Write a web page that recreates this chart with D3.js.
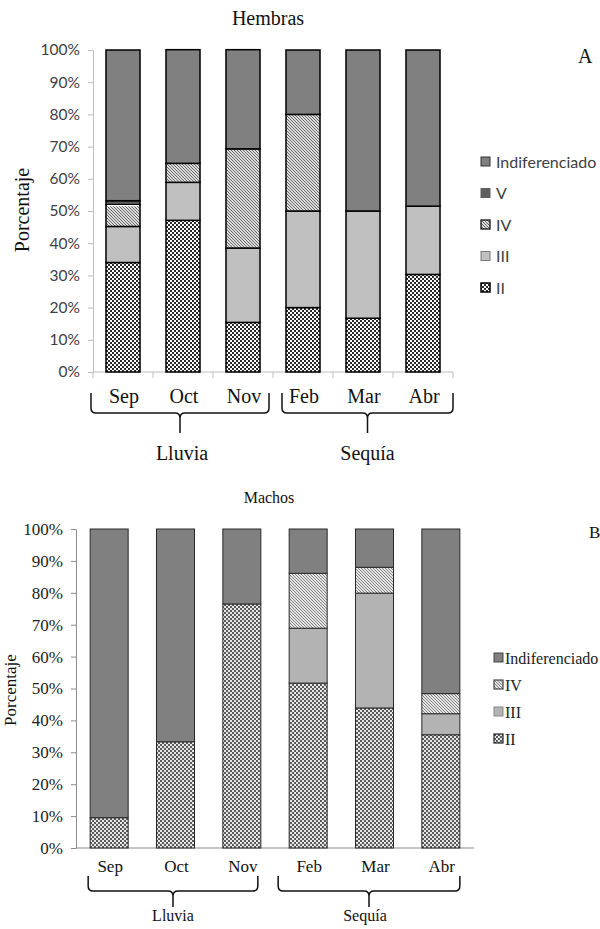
<!DOCTYPE html>
<html>
<head>
<meta charset="utf-8">
<script src="https://cdn.jsdelivr.net/npm/d3@7"></script>
<style>
  html, body { margin: 0; padding: 0; background: #fff; }
  svg { display: block; }
</style>
</head>
<body>
<svg id="chart" width="600" height="929"></svg>
<script>
// Months shown on both panels
const months = ["Sep", "Oct", "Nov", "Feb", "Mar", "Abr"];
const seasons = [
  { label: "Lluvia", from: "Sep", to: "Nov" },
  { label: "Sequía", from: "Feb", to: "Abr" }
];
const yTicks = [0, 10, 20, 30, 40, 50, 60, 70, 80, 90, 100];

// Hembras: percentage per gonadal stage
const hembrasII    = [34.0, 47.1, 15.4, 20.0, 16.7, 30.3];
const hembrasIII   = [11.2, 11.8, 23.1, 30.0, 33.3, 21.2];
const hembrasIV    = [ 6.8,  5.9, 30.8, 30.0,  0.0,  0.0];
const hembrasV     = [ 1.2,  0.0,  0.0,  0.0,  0.0,  0.0];
const hembrasIndif = [46.8, 35.3, 30.8, 20.0, 50.0, 48.5];

// Machos: percentage per gonadal stage
const machosII    = [ 9.5, 33.3, 76.5, 51.7, 43.9, 35.5];
const machosIII   = [ 0.0,  0.0,  0.0, 17.2, 36.0,  6.6];
const machosIV    = [ 0.0,  0.0,  0.0, 17.2,  8.1,  6.3];
const machosIndif = [90.5, 66.7, 23.5, 13.9, 12.0, 51.6];

const svg = d3.select("#chart");
const defs = svg.append("defs");

// Fill patterns
function checker(id, color, bg) {
  const p = defs.append("pattern").attr("id", id)
    .attr("width", 4).attr("height", 4).attr("patternUnits", "userSpaceOnUse");
  p.append("rect").attr("width", 4).attr("height", 4).attr("fill", bg);
  p.append("rect").attr("width", 2).attr("height", 2).attr("fill", color);
  p.append("rect").attr("x", 2).attr("y", 2).attr("width", 2).attr("height", 2).attr("fill", color);
}
function hatch(id, color, bg, w) {
  const p = defs.append("pattern").attr("id", id)
    .attr("width", 3).attr("height", 3).attr("patternUnits", "userSpaceOnUse");
  p.append("rect").attr("width", 3).attr("height", 3).attr("fill", bg);
  p.append("path").attr("d", "M-1,2 l2,2 M0,0 l3,3 M2,-1 l2,2")
    .attr("stroke", color).attr("stroke-width", w).attr("fill", "none");
}
checker("chkA", "#2a2a2a", "#ffffff");
checker("chkB", "#5a5a5a", "#e8e8e8");
hatch("hatA", "#6a6a6a", "#dcdcdc", 1);
hatch("hatB", "#858585", "#e4e4e4", 1);

function bracePath(x0, x1, xc, yTop, yMid, yTip) {
  const r = 5;
  return `M${x0},${yTop} L${x0},${yMid - r} Q${x0},${yMid} ${x0 + r},${yMid}` +
         ` L${xc - r},${yMid} Q${xc},${yMid} ${xc},${yMid + r} L${xc},${yTip}` +
         ` M${xc},${yMid + r} Q${xc},${yMid} ${xc + r},${yMid}` +
         ` L${x1 - r},${yMid} Q${x1},${yMid} ${x1},${yMid - r} L${x1},${yTop}`;
}

function drawPanel(cfg) {
  const g = svg.append("g");
  const rows = months.map((m, i) => {
    const row = { month: m };
    cfg.series.forEach(s => { row[s.key] = s.values[i]; });
    return row;
  });
  const stack = d3.stack().keys(cfg.series.map(s => s.key));
  const layers = stack(rows);

  const x = d3.scaleBand().domain(months).range([cfg.x0, cfg.x1])
    .paddingInner(cfg.pad).paddingOuter(cfg.pad / 2);
  const y = d3.scaleLinear().domain([0, 100]).range([cfg.yBottom, cfg.yTop]);

  // y axis
  const yAxis = g.append("g").attr("transform", `translate(${cfg.x0},0)`)
    .call(d3.axisLeft(y).tickValues(yTicks).tickSize(cfg.tickLen).tickSizeOuter(0)
      .tickFormat(d => d + "%"));
  yAxis.select(".domain").attr("stroke", cfg.axisColor).attr("stroke-width", 1);
  yAxis.selectAll(".tick line").attr("stroke", cfg.axisColor);
  yAxis.selectAll(".tick text")
    .attr("x", -cfg.tickLabelGap)
    .attr("fill", cfg.tickColor)
    .style("font-family", cfg.tickFont).style("font-size", cfg.tickSize + "px");

  // x axis line and band separators
  g.append("line").attr("x1", cfg.x0).attr("x2", cfg.x1)
    .attr("y1", cfg.yBottom).attr("y2", cfg.yBottom)
    .attr("stroke", cfg.axisColor).attr("stroke-width", 1);
  if (cfg.xTicks) {
    const bounds = months.map(m => x(m) - x.step() * x.paddingInner() / 2).concat([cfg.x1]);
    g.selectAll(".xt").data(bounds).join("line")
      .attr("x1", d => d).attr("x2", d => d)
      .attr("y1", cfg.yBottom).attr("y2", cfg.yBottom + 6)
      .attr("stroke", cfg.axisColor);
  }

  // stacked bars
  const fills = Object.fromEntries(cfg.series.map(s => [s.key, s.fill]));
  layers.forEach(layer => {
    const segs = layer.filter(d => d[1] - d[0] > 0);
    g.selectAll(null).data(segs).join("rect")
      .attr("x", d => x(d.data.month))
      .attr("width", x.bandwidth())
      .attr("y", d => y(d[1]))
      .attr("height", d => y(d[0]) - y(d[1]))
      .attr("fill", fills[layer.key])
      .attr("stroke", cfg.barStroke)
      .attr("stroke-width", cfg.barStrokeW);
    if (layer.key === "V") {
      g.selectAll(null).data(segs).join("line")
        .attr("x1", d => x(d.data.month) + 1).attr("x2", d => x(d.data.month) + x.bandwidth() - 1)
        .attr("y1", d => y(d[0]) + 1).attr("y2", d => y(d[0]) + 1)
        .attr("stroke", "#ffffff").attr("stroke-width", 1.2);
    }
  });

  // month labels
  g.selectAll(".ml").data(months).join("text")
    .attr("x", d => x(d) + x.bandwidth() / 2 + cfg.labelShift)
    .attr("y", cfg.monthY)
    .attr("text-anchor", "middle")
    .style("font-family", "Liberation Serif, serif")
    .style("font-size", cfg.monthSize + "px")
    .attr("fill", "#111")
    .text(d => d);

  // season braces
  seasons.forEach((s, i) => {
    const b = cfg.braces[i];
    const xa = x(s.from) + b.dx0;
    const xb = x(s.to) + x.bandwidth() + b.dx1;
    const xc = (xa + xb) / 2 + b.dc;
    g.append("path")
      .attr("d", bracePath(xa, xb, xc, cfg.braceTop, cfg.braceMid, cfg.braceTip))
      .attr("fill", "none").attr("stroke", "#111").attr("stroke-width", 1.5);
    g.append("text")
      .attr("x", xc + b.dt).attr("y", cfg.seasonY)
      .attr("text-anchor", "middle")
      .style("font-family", "Liberation Serif, serif")
      .style("font-size", cfg.seasonSize + "px")
      .attr("fill", "#111")
      .text(s.label);
  });

  // title, panel letter, y title
  g.append("text").attr("x", cfg.titleX).attr("y", cfg.titleY)
    .attr("text-anchor", "middle")
    .style("font-family", "Liberation Serif, serif").style("font-size", cfg.titleSize + "px")
    .attr("fill", "#111").text(cfg.title);
  g.append("text").attr("x", cfg.letterX).attr("y", cfg.letterY)
    .style("font-family", "Liberation Serif, serif").style("font-size", cfg.letterSize + "px")
    .attr("fill", "#111").text(cfg.letter);
  g.append("text")
    .attr("transform", `translate(${cfg.yTitleX},${cfg.yTitleY}) rotate(-90)`)
    .attr("text-anchor", "middle")
    .style("font-family", "Liberation Serif, serif").style("font-size", cfg.yTitleSize + "px")
    .attr("fill", "#111").text("Porcentaje");

  // legend (top entry is the last stacked series)
  const legendItems = cfg.series.slice().reverse();
  const lg = g.append("g");
  legendItems.forEach((s, i) => {
    const cy = cfg.legendY + i * cfg.legendStep;
    lg.append("rect").attr("x", cfg.legendX).attr("y", cy - 5)
      .attr("width", 9).attr("height", 9)
      .attr("fill", s.fill).attr("stroke", s.legendStroke).attr("stroke-width", s.legendStrokeW);
    lg.append("text").attr("x", cfg.legendX + cfg.legendTextGap).attr("y", cy)
      .attr("dy", "0.35em")
      .style("font-family", cfg.legendFont).style("font-size", cfg.legendSize + "px")
      .attr("fill", cfg.legendColor).text(s.key);
  });
}

drawPanel({
  title: "Hembras", titleX: 268, titleY: 25, titleSize: 20,
  letter: "A", letterX: 578, letterY: 63, letterSize: 20,
  x0: 93, x1: 453, yTop: 50, yBottom: 372, pad: 0.433,
  axisColor: "#bdbdbd", tickLen: 5, tickLabelGap: 13,
  tickFont: "Lato, sans-serif", tickSize: 15.5, tickColor: "#404040",
  xTicks: true,
  barStroke: "#000", barStrokeW: 1.5,
  series: [
    { key: "II", values: hembrasII, fill: "url(#chkA)", legendStroke: "#000", legendStrokeW: 1.5 },
    { key: "III", values: hembrasIII, fill: "#c0c0c0", legendStroke: "#7a7a7a", legendStrokeW: 1 },
    { key: "IV", values: hembrasIV, fill: "url(#hatA)", legendStroke: "#000", legendStrokeW: 1.2 },
    { key: "V", values: hembrasV, fill: "#5e5e5e", legendStroke: "#5e5e5e", legendStrokeW: 1 },
    { key: "Indiferenciado", values: hembrasIndif, fill: "#808080", legendStroke: "#333", legendStrokeW: 1 }
  ],
  monthY: 403, monthSize: 20, labelShift: 1,
  braces: [ { dx0: -15, dx1: 9, dc: 0, dt: 2 }, { dx0: -4, dx1: 13, dc: 0, dt: 0 } ],
  braceTop: 393, braceMid: 413, braceTip: 433,
  seasonY: 460, seasonSize: 20,
  yTitleX: 29, yTitleY: 210, yTitleSize: 20,
  legendX: 481, legendY: 162, legendStep: 31.5, legendTextGap: 15,
  legendFont: "Lato, sans-serif", legendSize: 16, legendColor: "#404040"
});

drawPanel({
  title: "Machos", titleX: 269, titleY: 503, titleSize: 16,
  letter: "B", letterX: 589, letterY: 538, letterSize: 17,
  x0: 76, x1: 474, yTop: 529, yBottom: 848, pad: 0.427,
  axisColor: "#8c8c8c", tickLen: 5, tickLabelGap: 13,
  tickFont: "Liberation Serif, serif", tickSize: 17, tickColor: "#222",
  xTicks: false,
  barStroke: "#2a2a2a", barStrokeW: 1,
  series: [
    { key: "II", values: machosII, fill: "url(#chkB)", legendStroke: "#222", legendStrokeW: 1.2 },
    { key: "III", values: machosIII, fill: "#b3b3b3", legendStroke: "#888", legendStrokeW: 1 },
    { key: "IV", values: machosIV, fill: "url(#hatB)", legendStroke: "#444", legendStrokeW: 1.2 },
    { key: "Indiferenciado", values: machosIndif, fill: "#808080", legendStroke: "#444", legendStrokeW: 1 }
  ],
  monthY: 872, monthSize: 17, labelShift: 1,
  braces: [ { dx0: -2, dx1: -3, dc: 0, dt: 0 }, { dx0: -11, dx1: 0, dc: 0, dt: -4 } ],
  braceTop: 876, braceMid: 891, braceTip: 907,
  seasonY: 921, seasonSize: 16,
  yTitleX: 16, yTitleY: 690, yTitleSize: 17,
  legendX: 494, legendY: 658, legendStep: 27, legendTextGap: 11,
  legendFont: "Liberation Serif, serif", legendSize: 16, legendColor: "#222"
});
</script>
</body>
</html>
